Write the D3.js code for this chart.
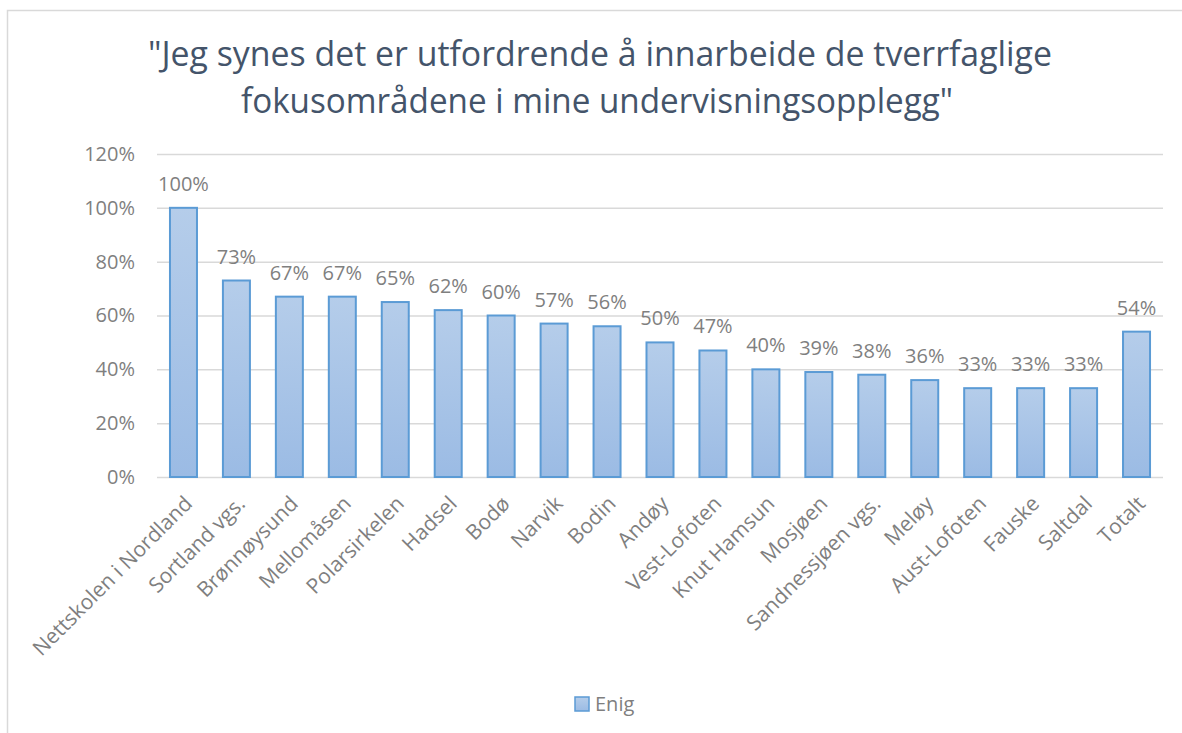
<!DOCTYPE html>
<html>
<head>
<meta charset="utf-8">
<script src="https://cdn.jsdelivr.net/npm/d3@7"></script>
<style>
  body { margin: 0; background: #fff; }
  text { font-family: "Open Sans", sans-serif; }
</style>
</head>
<body>
<div id="chart"></div>
<script>
// Chart data
const schools = ['Nettskolen i Nordland', 'Sortland vgs.', 'Brønnøysund', 'Mellomåsen', 'Polarsirkelen',
    'Hadsel', 'Bodø', 'Narvik', 'Bodin', 'Andøy', 'Vest-Lofoten', 'Knut Hamsun', 'Mosjøen',
    'Sandnessjøen vgs.', 'Meløy', 'Aust-Lofoten', 'Fauske', 'Saltdal', 'Totalt'];
const enig = [100, 73, 67, 67, 65, 62, 60, 57, 56, 50, 47, 40, 39, 38, 36, 33, 33, 33, 54];
const yTicks = [0, 20, 40, 60, 80, 100, 120];
const titleLines = ['"Jeg synes det er utfordrende å innarbeide de tverrfaglige',
    'fokusområdene i mine undervisningsopplegg"'];
const seriesName = 'Enig';

// Dimensions
const width = 1182;
const height = 733;
const plot = { left: 157, right: 1163, top: 154, bottom: 477 };

const svg = d3.select('#chart')
    .append('svg')
    .attr('width', width)
    .attr('height', height);

// Bar gradient
const grad = svg.append('defs').append('linearGradient')
    .attr('id', 'barGrad')
    .attr('x1', 0).attr('y1', 0).attr('x2', 0).attr('y2', 1);
grad.append('stop').attr('offset', '0%').attr('stop-color', '#b5cdea');
grad.append('stop').attr('offset', '100%').attr('stop-color', '#9bbbe4');

// Chart border
svg.append('rect')
    .attr('x', 7.5).attr('y', 10.5)
    .attr('width', 1200).attr('height', 800)
    .attr('fill', 'none')
    .attr('stroke', '#d9d9d9')
    .attr('stroke-width', 1.5);

// Scales
const x = d3.scaleBand()
    .domain(schools)
    .range([plot.left, plot.right])
    .paddingInner(0.49)
    .paddingOuter(0.245);

const y = d3.scaleLinear()
    .domain([0, 120])
    .range([plot.bottom, plot.top]);

// Title
svg.append('g')
    .selectAll('text')
    .data(titleLines)
    .enter()
    .append('text')
    .attr('x', (d, i) => i === 0 ? 600 : 597)
    .attr('y', (d, i) => 66 + i * 47)
    .attr('text-anchor', 'middle')
    .attr('font-size', 35)
    .attr('fill', '#44546a')
    .attr('textLength', (d, i) => i === 0 ? 904 : 712)
    .attr('lengthAdjust', 'spacingAndGlyphs')
    .text(d => d);

// Y axis with gridlines
const yAxis = d3.axisLeft(y)
    .tickValues(yTicks)
    .tickSize(-(plot.right - plot.left))
    .tickPadding(22)
    .tickFormat(d => d + '%');

svg.append('g')
    .attr('transform', `translate(${plot.left}, 0)`)
    .call(yAxis)
    .call(g => g.select('.domain').remove())
    .call(g => g.selectAll('line').attr('stroke', '#d9d9d9').attr('stroke-width', 1.5))
    .call(g => g.selectAll('text')
        .attr('font-size', 20)
        .attr('fill', '#7f7f7f')
        .attr('font-family', '"Open Sans", sans-serif'));

// Bars
svg.selectAll('.bar')
    .data(enig)
    .enter()
    .append('rect')
    .attr('class', 'bar')
    .attr('x', (d, i) => x(schools[i]))
    .attr('y', d => y(d))
    .attr('width', x.bandwidth())
    .attr('height', d => y(0) - y(d))
    .attr('fill', 'url(#barGrad)')
    .attr('stroke', '#5b9bd5')
    .attr('stroke-width', 2);

// Data labels
svg.selectAll('.label')
    .data(enig)
    .enter()
    .append('text')
    .attr('class', 'label')
    .attr('x', (d, i) => x(schools[i]) + x.bandwidth() / 2)
    .attr('y', d => y(d) - 17)
    .attr('text-anchor', 'middle')
    .attr('font-size', 20)
    .attr('fill', '#7f7f7f')
    .text(d => d + '%');

// X axis labels (rotated)
svg.selectAll('.xlabel')
    .data(schools)
    .enter()
    .append('text')
    .attr('class', 'xlabel')
    .attr('transform', d => `translate(${x(d) + x.bandwidth() / 2 + 10}, 505) rotate(-45)`)
    .attr('text-anchor', 'end')
    .attr('font-size', 21)
    .attr('fill', '#7f7f7f')
    .text(d => d);

// Legend
const legend = svg.append('g')
    .attr('transform', 'translate(575, 697)');

legend.append('rect')
    .attr('width', 14)
    .attr('height', 14)
    .attr('fill', 'url(#barGrad)')
    .attr('stroke', '#5b9bd5')
    .attr('stroke-width', 1.5);

legend.append('text')
    .attr('x', 20)
    .attr('y', 14)
    .attr('font-size', 20)
    .attr('fill', '#7f7f7f')
    .text(seriesName);
</script>
</body>
</html>
